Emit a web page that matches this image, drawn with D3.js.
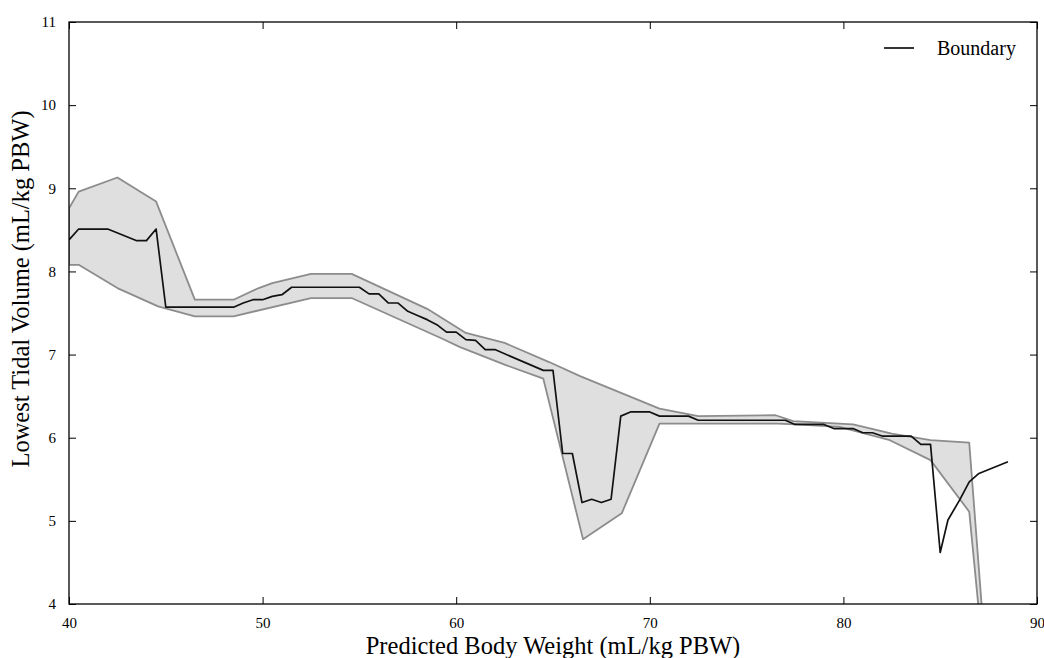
<!DOCTYPE html>
<html><head><meta charset="utf-8">
<script src="https://cdn.jsdelivr.net/npm/d3@7"></script>
<style>body{margin:0;background:#fff}svg{display:block}</style>
</head><body>
<svg id="c" width="1044" height="658"></svg>
<script>
const xTicks = [40, 50, 60, 70, 80, 90];
const yTicks = [4, 5, 6, 7, 8, 9, 10, 11];
const xLabel = "Predicted Body Weight (mL/kg PBW)";
const yLabel = "Lowest Tidal Volume (mL/kg PBW)";
const legendLabel = "Boundary";

const boundaryX = [40.0,40.5,42.0,43.5,44.0,44.5,45.0,48.5,49.0,49.5,50.0,50.5,51.0,51.5,55.0,55.5,56.0,56.5,57.0,57.5,58.0,58.5,59.0,59.5,60.0,60.5,61.0,61.5,62.0,64.5,65.0,65.5,66.0,66.5,67.0,67.5,68.0,68.5,69.0,70.0,70.5,72.0,72.5,77.0,77.5,79.0,79.5,80.5,81.0,81.5,82.0,83.5,84.0,84.5,85.0,85.4,86.0,86.5,87.0,88.5];
const boundaryY = [8.38,8.51,8.51,8.37,8.37,8.51,7.57,7.57,7.62,7.66,7.66,7.70,7.72,7.81,7.81,7.73,7.73,7.62,7.62,7.52,7.47,7.42,7.36,7.27,7.27,7.18,7.17,7.06,7.06,6.81,6.81,5.81,5.81,5.22,5.26,5.22,5.26,6.26,6.31,6.31,6.26,6.26,6.21,6.21,6.16,6.16,6.11,6.11,6.06,6.06,6.02,6.02,5.92,5.92,4.62,5.01,5.25,5.47,5.57,5.71];

const upperX = [40.0,40.5,42.5,44.5,46.5,48.5,49.8,50.5,52.5,54.6,58.5,60.5,62.5,64.8,66.4,70.5,72.5,76.5,77.4,80.5,82.5,84.5,86.5,87.3];
const upperY = [8.76,8.96,9.13,8.84,7.66,7.66,7.80,7.86,7.97,7.97,7.55,7.26,7.14,6.91,6.74,6.35,6.26,6.27,6.20,6.16,6.05,5.97,5.94,3.5];
const lowerX = [40.0,40.5,42.5,44.6,46.5,48.5,52.5,54.6,59.2,60.2,62.6,64.5,66.55,68.55,70.5,76.6,77.5,79.8,82.4,84.5,86.5,87.17];
const lowerY = [8.08,8.08,7.80,7.58,7.46,7.46,7.68,7.68,7.20,7.09,6.87,6.71,4.78,5.09,6.17,6.17,6.16,6.13,5.97,5.73,5.11,3.5];

const L = 69, R = 1037, T = 22, B = 604;
const svg = d3.select("#c");
const x = d3.scaleLinear().domain([40, 90]).range([L, R]);
const y = d3.scaleLinear().domain([4, 11]).range([B, T]);
const font = "'Liberation Serif', 'DejaVu Serif', serif";

svg.append("defs").append("clipPath").attr("id","clip")
  .append("rect").attr("x",L).attr("y",T).attr("width",R-L).attr("height",B-T);

const g = svg.append("g").attr("clip-path","url(#clip)");
const upper = upperX.map((v,i)=>[v, upperY[i]]);
const lower = lowerX.map((v,i)=>[v, lowerY[i]]);
const poly = upper.concat(lower.slice().reverse());
const line = d3.line().x(d=>x(d[0])).y(d=>y(d[1]));
g.append("path").attr("d", line(poly) + "Z")
  .attr("fill","#dfdfdf").attr("stroke","#8c8c8c").attr("stroke-width",1.8).attr("stroke-linejoin","round");
const bnd = boundaryX.map((v,i)=>[v, boundaryY[i]]);
g.append("path").attr("d", line(bnd)).attr("fill","none")
  .attr("stroke","#111").attr("stroke-width",1.7).attr("stroke-linejoin","round");

// axes (ticks inward on all sides)
const tl = 7;
const axB = d3.axisBottom(x).tickValues(xTicks).tickSize(-tl).tickPadding(tl+6).tickFormat(d3.format("d"));
const axT = d3.axisTop(x).tickValues(xTicks).tickSize(-tl).tickFormat("");
const axL = d3.axisLeft(y).tickValues(yTicks).tickSize(-tl).tickPadding(tl+6).tickFormat(d3.format("d"));
const axR = d3.axisRight(y).tickValues(yTicks).tickSize(-tl).tickFormat("");
function styleAx(sel){
  sel.select(".domain").remove();
  sel.selectAll(".tick line").attr("stroke","#000").attr("stroke-width",1);
  sel.selectAll(".tick text").attr("font-family",font).attr("font-size",15).attr("fill","#000");
}
svg.append("g").attr("transform",`translate(0,${B})`).call(axB).call(styleAx);
svg.append("g").attr("transform",`translate(0,${T})`).call(axT).call(styleAx);
svg.append("g").attr("transform",`translate(${L},0)`).call(axL).call(styleAx);
svg.append("g").attr("transform",`translate(${R},0)`).call(axR).call(styleAx);

svg.append("rect").attr("x",L).attr("y",T).attr("width",R-L).attr("height",B-T)
  .attr("fill","none").attr("stroke","#000").attr("stroke-width",1.3);

svg.append("text").attr("x",(L+R)/2).attr("y",654).attr("text-anchor","middle")
  .attr("font-family",font).attr("font-size",24.5).text(xLabel);
svg.append("text").attr("transform",`translate(29,289) rotate(-90)`).attr("text-anchor","middle")
  .attr("font-family",font).attr("font-size",24.5).text(yLabel);

// legend
svg.append("line").attr("x1",884).attr("x2",914).attr("y1",48).attr("y2",48)
  .attr("stroke","#111").attr("stroke-width",1.7);
svg.append("text").attr("x",937).attr("y",55).attr("font-family",font).attr("font-size",20).text(legendLabel);
</script>
</body></html>
